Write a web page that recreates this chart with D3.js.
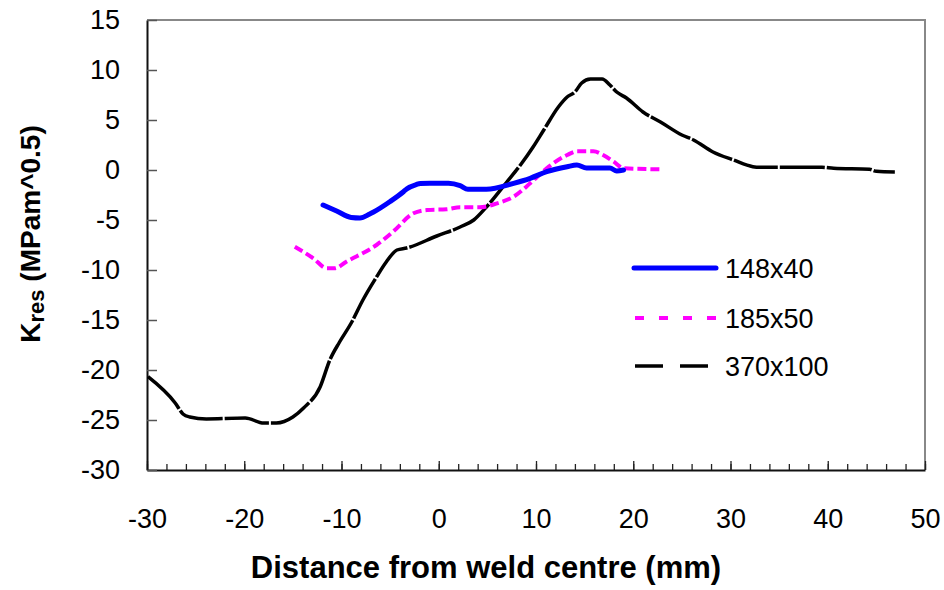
<!DOCTYPE html>
<html>
<head>
<meta charset="utf-8">
<script src="https://cdn.jsdelivr.net/npm/d3@7"></script>
<style>
  html, body { margin: 0; padding: 0; background: #fff; }
  svg { display: block; font-family: Arial, "Liberation Sans", sans-serif; }
</style>
</head>
<body>
<svg id="chart" width="944" height="590"></svg>
<script>
// Residual stress intensity factor along the specimen, three specimen sizes
const seriesNames = ["148x40", "185x50", "370x100"];

const x148 = [-11.9, -10.5, -9.0, -8.1, -7.1, -6.7, -5.0, -3.6, -3.3, -2.3, -1.9, -0.9, 1.0, 2.2, 3.0, 4.9, 7.7, 9.4, 11.1, 13.2, 14.2, 15.2, 17.6, 18.3, 19.0];
const y148 = [-3.5, -4.1, -4.75, -4.8, -4.4, -4.2, -3.15, -2.15, -1.9, -1.45, -1.35, -1.33, -1.33, -1.57, -1.93, -1.93, -1.33, -0.83, -0.17, 0.33, 0.5, 0.2, 0.2, -0.1, 0.0];

const x185 = [-14.8, -12.9, -11.5, -10.7, -9.5, -6.4, -4.7, -2.6, -1.2, 0.8, 2.2, 4.2, 6.0, 7.7, 9.4, 11.1, 13.2, 14.2, 15.9, 16.9, 18.0, 19.0, 22.9];
const y185 = [-7.67, -8.83, -9.83, -9.83, -9.17, -7.5, -6.17, -4.33, -4.0, -3.93, -3.73, -3.73, -3.33, -2.67, -1.33, 0.17, 1.5, 1.87, 1.87, 1.5, 0.83, 0.17, 0.07];

const x370 = [-29.9, -27.1, -26.3, -25.6, -23.9, -19.9, -18.0, -16.7, -15.0, -13.9, -12.2, -11.2, -10.2, -9.0, -7.8, -6.4, -5.4, -4.3, -3.3, -0.2, 2.2, 3.6, 4.9, 7.0, 8.4, 9.7, 10.8, 12.3, 13.2, 14.0, 14.7, 15.6, 16.8, 17.6, 18.3, 19.3, 21.0, 22.8, 25.0, 26.2, 28.2, 30.3, 32.3, 33.0, 39.4, 40.6, 44.3, 45.0, 46.9];
const y370 = [-20.67, -23.3, -24.4, -24.7, -24.9, -24.8, -25.3, -25.3, -24.7, -23.8, -21.7, -19.0, -17.2, -15.3, -13.0, -10.7, -9.2, -8.0, -7.8, -6.6, -5.7, -5.0, -3.7, -1.2, 0.5, 2.3, 4.0, 6.3, 7.3, 7.8, 8.7, 9.1, 9.1, 8.5, 7.8, 7.2, 5.8, 4.8, 3.5, 3.0, 1.8, 1.0, 0.33, 0.27, 0.27, 0.17, 0.07, -0.13, -0.2];

const xTicks = [-30, -20, -10, 0, 10, 20, 30, 40, 50];
const yTicks = [-30, -25, -20, -15, -10, -5, 0, 5, 10, 15];

const svg = d3.select("#chart");
const L = 147, R = 925, T = 20, B = 470;

const x = d3.scaleLinear().domain([-30, 50]).range([L, R]);
const y = d3.scaleLinear().domain([-30, 15]).range([B, T]);

// plain hyphen for negative labels
const fmt = d => String(d);

// plot frame (top and right sides)
svg.append("path")
  .attr("d", `M${L},${T}H${R}V${B}`)
  .attr("fill", "none").attr("stroke", "#888").attr("stroke-width", 2);

// minor x ticks every 2 mm
const minorAxis = d3.axisBottom(x).tickValues(d3.range(-30, 51, 2)).tickSize(-6).tickFormat("");
const gMinor = svg.append("g").attr("transform", `translate(0,${B})`).call(minorAxis);
gMinor.select(".domain").remove();
gMinor.selectAll("line").attr("stroke", "#222").attr("stroke-width", 1.3);

// x axis
const gx = svg.append("g").attr("transform", `translate(0,${B})`)
  .call(d3.axisBottom(x).tickValues(xTicks).tickFormat(fmt).tickSizeInner(-9).tickSizeOuter(0).tickPadding(39));
gx.select(".domain").attr("stroke", "#111").attr("stroke-width", 2);
gx.selectAll("line").attr("stroke", "#222").attr("stroke-width", 1.3);
gx.selectAll("text").attr("font-size", 27).attr("fill", "#000").attr("font-family", "Arial, 'Liberation Sans', sans-serif");

// y axis
const gy = svg.append("g").attr("transform", `translate(${L},0)`)
  .call(d3.axisLeft(y).tickValues(yTicks).tickFormat(fmt).tickSizeInner(-10).tickSizeOuter(0).tickPadding(27));
gy.select(".domain").attr("stroke", "#111").attr("stroke-width", 2);
gy.selectAll("line").attr("stroke", "#555").attr("stroke-width", 1.5);
gy.selectAll("text").attr("font-size", 27).attr("fill", "#000").attr("font-family", "Arial, 'Liberation Sans', sans-serif");

// series lines
const line = d3.line().x(d => x(d[0])).y(d => y(d[1])).curve(d3.curveMonotoneX);
const series = [
  { name: seriesNames[0], pts: d3.zip(x148, y148), color: "#0000ff", width: 5, dash: null, legendDash: null },
  { name: seriesNames[1], pts: d3.zip(x185, y185), color: "#ff00ff", width: 4, dash: "9,4", legendDash: "9,15" },
  { name: seriesNames[2], pts: d3.zip(x370, y370), color: "#000000", width: 3.5, dash: "45,2", legendDash: "28,17" }
];

// draw the large specimen first so the smaller ones sit on top
[series[2], series[1], series[0]].forEach(s => {
  svg.append("path")
    .datum(s.pts)
    .attr("d", line)
    .attr("fill", "none")
    .attr("stroke", s.color)
    .attr("stroke-width", s.width)
    .attr("stroke-linecap", s.dash ? "butt" : "round")
    .attr("stroke-linejoin", "round")
    .attr("stroke-dasharray", s.dash);
});

// legend
const legend = svg.append("g");
const legendY = [268, 318, 366];
series.forEach((s, i) => {
  legend.append("line")
    .attr("x1", s.dash ? 635 : 634).attr("x2", 716)
    .attr("y1", legendY[i]).attr("y2", legendY[i])
    .attr("stroke", s.color)
    .attr("stroke-width", s.width)
    .attr("stroke-linecap", s.dash ? "butt" : "round")
    .attr("stroke-dasharray", s.legendDash);
  legend.append("text")
    .attr("x", 725).attr("y", legendY[i] + 10)
    .attr("font-size", 27).attr("fill", "#000")
    .text(s.name);
});

// axis titles
svg.append("text")
  .attr("x", 486).attr("y", 578)
  .attr("text-anchor", "middle")
  .attr("font-size", 31).attr("font-weight", "bold")
  .text("Distance from weld centre (mm)");

const yTitle = svg.append("text")
  .attr("transform", "translate(40,234) rotate(-90)")
  .attr("text-anchor", "middle")
  .attr("font-size", 28).attr("font-weight", "bold");
yTitle.append("tspan").text("K");
yTitle.append("tspan").attr("font-size", 22).attr("dy", 4).text("res");
yTitle.append("tspan").attr("dy", -4).text(" (MPam^0.5)");
</script>
</body>
</html>
